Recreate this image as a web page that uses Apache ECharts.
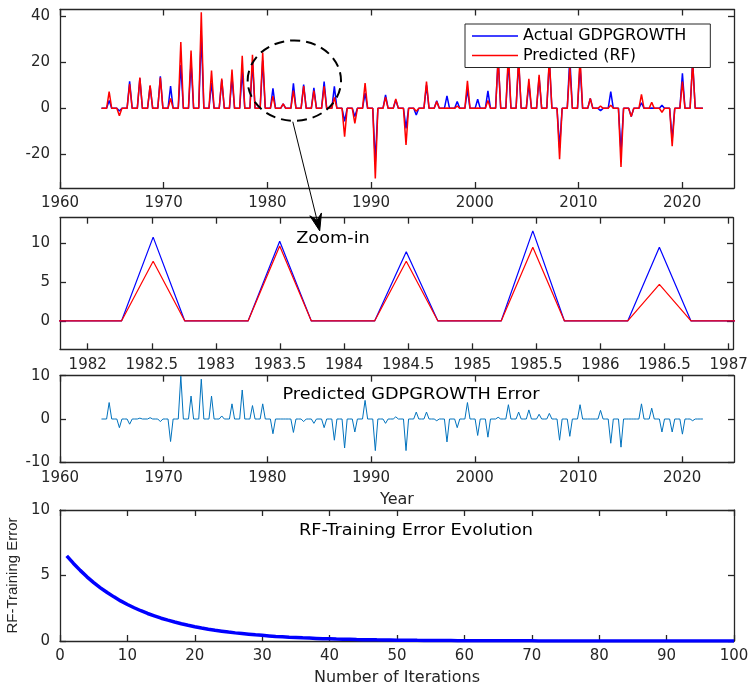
<!DOCTYPE html>
<html>
<head>
<meta charset="utf-8">
<script src="https://cdn.jsdelivr.net/npm/echarts@6/dist/echarts.min.js"></script>
<style>
html,body{margin:0;padding:0;background:#fff;}
#chart{width:750px;height:685px;}
</style>
</head>
<body>
<div id="chart"></div>
<script>
// ---- time sampling of the GDP series (quarter-like grid, one value per year) ----
const timeStart = 1964, timeEnd = 2022, sampleCount = 236;

// Actual GDP growth (blue)
const actualGDP = [
  0,0,0,3.4,   0,0,0,-1.2,  0,0,0,11.7,  0,0,0,13.0,  0,0,0,9.6,
  0,0,0,13.9,  0,0,0,9.6,   0,0,0,18.8,  0,0,0,19.7,  0,0,0,32.0,
  0,0,0,11.1,  0,0,0,12.2,  0,0,0,13.3,  0,0,0,16.1,  0,0,0,20.1,
  0,0,0,20.7,  0,0,0,8.7,   0,0,0,1.9,   0,0,0,10.8,  0,0,0,10.26,
  0,0,0,8.9,   0,0,0,11.6,  0,0,0,9.5,   0,0,0,-5.6,  0,0,0,-3.5,
  0,0,0,6.6,   0,0,0,-23.1, 0,0,0,5.8,   0,0,0,3.6,   0,0,0,-8.7,
  0,0,0,-2.9,  0,0,0,10.0,  0,0,0,3.3,   0,0,0,5.4,   0,0,0,3.0,
  0,0,0,8.1,   0,0,0,3.9,   0,0,0,7.6,   0,0,0,21.6,  0,0,0,20.7,
  0,0,0,20.4,  0,0,0,10.7,  0,0,0,13.4,  0,0,0,20.7,  0,0,0,-17.1,
  0,0,0,22.0,  0,0,0,18.7,  0,0,0,4.3,   0,0,0,-1.0,  0,0,0,7.2,
  0,0,0,-18.9, 0,0,0,-3.6,  0,0,0,2.4,   0,0,0,0.1,   0,0,0,1.3,
  0,0,0,-13.4, 0,0,0,15.2,  0,0,0,20.4,  0,0,0,0
];

// Predicted (RF) (red)
const predictedRF = [
  0,0,0,7.2,   0,0,0,-3.2,  0,0,0,10.5,  0,0,0,13.3,  0,0,0,10.0,
  0,0,0,13.3,  0,0,0,4.3,   0,0,0,28.7,  0,0,0,25.0,  0,0,0,41.6,
  0,0,0,16.4,  0,0,0,12.9,  0,0,0,16.8,  0,0,0,22.8,  0,0,0,23.2,
  0,0,0,24.2,  0,0,0,5.3,   0,0,0,1.9,   0,0,0,7.7,   0,0,0,9.66,
  0,0,0,7.7,   0,0,0,9.5,   0,0,0,4.7,   0,0,0,-12.3, 0,0,0,-6.5,
  0,0,0,10.9,  0,0,0,-30.4, 0,0,0,4.8,   0,0,0,4.1,   0,0,0,-15.9,
  0,0,0,-1.3,  0,0,0,11.6,  0,0,0,2.9,   0,0,0,0.1,   0,0,0,1.0,
  0,0,0,11.9,  0,0,0,0.1,   0,0,0,3.4,   0,0,0,22.0,  0,0,0,24.0,
  0,0,0,22.0,  0,0,0,12.8,  0,0,0,14.5,  0,0,0,22.0,  0,0,0,-22.0,
  0,0,0,18.0,  0,0,0,22.0,  0,0,0,4.3,   0,0,0,1.0,   0,0,0,1.4,
  0,0,0,-25.4, 0,0,0,-3.6,  0,0,0,6.0,   0,0,0,2.6,   0,0,0,-1.7,
  0,0,0,-16.4, 0,0,0,11.6,  0,0,0,20.0,  0,0,0,0
];

// Predicted GDPGROWTH error
const predictionError = [
  0,0,0,3.8,   0,0,0,-2.0,  0,0,0,-1.2,  0,0,0,0.2,   0,0,0,0.3,
  0,0,0,-0.6,  0,0,0,-5.2,  0,0,0,9.9,   0,0,0,5.3,   0,0,0,9.2,
  0,0,0,5.3,   0,0,0,0.7,   0,0,0,3.5,   0,0,0,6.7,   0,0,0,3.1,
  0,0,0,3.5,   0,0,0,-3.4,  0,0,0,0,     0,0,0,-3.1,  0,0,0,-0.6,
  0,0,0,-1.0,  0,0,0,-2.0,  0,0,0,-4.9,  0,0,0,-6.7,  0,0,0,-3.0,
  0,0,0,4.3,   0,0,0,-7.3,  0,0,0,-1.0,  0,0,0,0.5,   0,0,0,-7.3,
  0,0,0,1.6,   0,0,0,1.6,   0,0,0,-0.4,  0,0,0,-5.3,  0,0,0,-2.0,
  0,0,0,3.8,   0,0,0,-3.8,  0,0,0,-4.2,  0,0,0,0.4,   0,0,0,3.3,
  0,0,0,1.6,   0,0,0,2.1,   0,0,0,1.1,   0,0,0,1.3,   0,0,0,-4.9,
  0,0,0,-4.0,  0,0,0,3.3,   0,0,0,0,     0,0,0,2.0,   0,0,0,-5.6,
  0,0,0,-6.5,  0,0,0,0,     0,0,0,3.5,   0,0,0,2.5,   0,0,0,-3.0,
  0,0,0,-3.0,  0,0,0,-3.5,  0,0,0,-0.4,  0,0,0,0
];

// RF training error per iteration (iterations 1..100)
const trainingError = [
  6.50,5.92,5.39,4.90,4.46,4.06,3.70,3.37,3.06,2.79,
  2.54,2.31,2.10,1.92,1.74,1.59,1.45,1.32,1.20,1.09,
  0.99,0.90,0.82,0.75,0.68,0.62,0.57,0.52,0.47,0.43,
  0.39,0.35,0.32,0.29,0.27,0.24,0.22,0.20,0.18,0.17,
  0.15,0.14,0.13,0.11,0.10,0.095,0.086,0.079,0.072,0.065,
  0.059,0.054,0.049,0.045,0.041,0.037,0.034,0.031,0.028,0.025,
  0.023,0.021,0.019,0.018,0.016,0.015,0.013,0.012,0.011,0.010,
  0.009,0.008,0.008,0.007,0.006,0.006,0.005,0.005,0.004,0.004,
  0.004,0.003,0.003,0.003,0.002,0.002,0.002,0.002,0.002,0.002,
  0.001,0.001,0.001,0.001,0.001,0.001,0.001,0.001,0.001,0.001
];

// tick labels
const yearTicks = [1960,1970,1980,1990,2000,2010,2020];
const zoomYearTicks = [1982,1982.5,1983,1983.5,1984,1984.5,1985,1985.5,1986,1986.5,1987];
const gdpTicks = [-20,0,20,40];
const zoomGdpTicks = [0,5,10];
const errorTicks = [-10,0,10];
const iterTicks = [0,10,20,30,40,50,60,70,80,90,100];
const trainTicks = [0,5,10];

// ---- build series data ----
const step = (timeEnd - timeStart) / (sampleCount - 1);
const timeAxis = actualGDP.map((_, i) => timeStart + i * step);
const actualPairs = timeAxis.map((t, i) => [t, actualGDP[i]]);
const predictedPairs = timeAxis.map((t, i) => [t, predictedRF[i]]);
const errorPairs = timeAxis.map((t, i) => [t, predictionError[i]]);
const trainPairs = trainingError.map((v, i) => [i + 1, v]);

const axisColor = '#262626';
const tickFont = 'DejaVu Sans';

function xAx(grid, min, max, ticks, pos, showLabel, extra) {
  return Object.assign({
    type: 'value', gridIndex: grid, min: min, max: max, position: pos,
    axisLine: { show: true, onZero: false, lineStyle: { color: axisColor, width: 1.3 } },
    axisTick: { show: true, inside: true, length: 6, customValues: ticks, lineStyle: { color: axisColor, width: 1.3 } },
    axisLabel: { show: showLabel, customValues: ticks, formatter: v => String(v), color: axisColor,
                 fontFamily: tickFont, fontSize: 15, margin: 8 },
    splitLine: { show: false }
  }, extra || {});
}
function yAx(grid, min, max, ticks, pos, showLabel, extra) {
  return Object.assign({
    type: 'value', gridIndex: grid, min: min, max: max, position: pos,
    axisLine: { show: true, onZero: false, lineStyle: { color: axisColor, width: 1.3 } },
    axisTick: { show: true, inside: true, length: 6, customValues: ticks, lineStyle: { color: axisColor, width: 1.3 } },
    axisLabel: { show: showLabel, customValues: ticks, formatter: v => String(v), color: axisColor,
                 fontFamily: tickFont, fontSize: 15, margin: 10 },
    splitLine: { show: false }
  }, extra || {});
}

const gdpRange = [-34.5, 42.8];
const zoomTimeRange = [1981.784, 1987.034];
const zoomGdpRange = [-3.65, 13.3];

const option = {
  animation: false,
  backgroundColor: '#fff',
  grid: [
    { left: 60, top: 9.5, width: 674, height: 178.5, containLabel: false, outerBoundsMode: 'none' },
    { left: 60, top: 217.7, width: 673, height: 131.6, containLabel: false, outerBoundsMode: 'none' },
    { left: 60, top: 375.7, width: 674, height: 86.6, containLabel: false, outerBoundsMode: 'none' },
    { left: 60, top: 510, width: 674, height: 131, containLabel: false, outerBoundsMode: 'none' }
  ],
  xAxis: [
    xAx(0, 1960, 2025, yearTicks, 'bottom', true),
    xAx(0, 1960, 2025, yearTicks, 'top', false),
    xAx(1, zoomTimeRange[0], zoomTimeRange[1], zoomYearTicks, 'bottom', true),
    xAx(1, zoomTimeRange[0], zoomTimeRange[1], zoomYearTicks, 'top', false),
    xAx(2, 1960, 2025, yearTicks, 'bottom', true, {
      name: 'Year', nameLocation: 'middle', nameGap: 30,
      nameTextStyle: { fontFamily: tickFont, fontSize: 16, color: axisColor } }),
    xAx(2, 1960, 2025, yearTicks, 'top', false),
    xAx(3, 0, 100, iterTicks, 'bottom', true, {
      name: 'Number of Iterations', nameLocation: 'middle', nameGap: 29,
      nameTextStyle: { fontFamily: tickFont, fontSize: 16, color: axisColor } }),
    xAx(3, 0, 100, iterTicks, 'top', false)
  ],
  yAxis: [
    yAx(0, gdpRange[0], gdpRange[1], gdpTicks, 'left', true),
    yAx(0, gdpRange[0], gdpRange[1], gdpTicks, 'right', false),
    yAx(1, zoomGdpRange[0], zoomGdpRange[1], zoomGdpTicks, 'left', true),
    yAx(1, zoomGdpRange[0], zoomGdpRange[1], zoomGdpTicks, 'right', false),
    yAx(2, -10, 10, errorTicks, 'left', true),
    yAx(2, -10, 10, errorTicks, 'right', false),
    yAx(3, 0, 10, trainTicks, 'left', true, {
      name: 'RF-Training Error', nameLocation: 'middle', nameGap: 39, nameRotate: 90,
      nameTextStyle: { fontFamily: 'Liberation Sans', fontSize: 15, color: axisColor } }),
    yAx(3, 0, 10, trainTicks, 'right', false)
  ],
  legend: {
    data: [{ name: 'Actual GDPGROWTH', icon: 'rect' }, { name: 'Predicted (RF)', icon: 'rect' }],
    orient: 'vertical', left: 465, top: 24,
    itemWidth: 46, itemHeight: 1.4, itemGap: 3.5,
    padding: [4, 24, 4, 7],
    backgroundColor: '#fff', borderColor: '#262626', borderWidth: 1,
    textStyle: { fontFamily: tickFont, fontSize: 16, lineHeight: 16, color: '#000' },
    selectedMode: false, z: 10
  },
  series: [
    { name: 'Actual GDPGROWTH', type: 'line', xAxisIndex: 0, yAxisIndex: 0, data: actualPairs,
      symbol: 'none', showSymbol: false, color: '#0000ff', lineStyle: { color: '#0000ff', width: 1.5 } },
    { name: 'Predicted (RF)', type: 'line', xAxisIndex: 0, yAxisIndex: 0, data: predictedPairs,
      symbol: 'none', showSymbol: false, color: '#ff0000', lineStyle: { color: '#ff0000', width: 1.5 } },
    { name: 'Actual (zoom)', type: 'line', xAxisIndex: 2, yAxisIndex: 2, data: actualPairs,
      symbol: 'none', showSymbol: false, clip: true, lineStyle: { color: '#0000ff', width: 1.2 } },
    { name: 'Predicted (zoom)', type: 'line', xAxisIndex: 2, yAxisIndex: 2, data: predictedPairs,
      symbol: 'none', showSymbol: false, clip: true, lineStyle: { color: '#ff0000', width: 1.2 } },
    { name: 'Error', type: 'line', xAxisIndex: 4, yAxisIndex: 4, data: errorPairs,
      symbol: 'none', showSymbol: false, lineStyle: { color: '#0072BD', width: 1 } },
    { name: 'Training error', type: 'line', xAxisIndex: 6, yAxisIndex: 6, data: trainPairs,
      symbol: 'none', showSymbol: false, lineStyle: { color: '#0000ff', width: 3.5 } }
  ]
};

const chart = echarts.init(document.getElementById('chart'), null, { renderer: 'canvas' });
chart.setOption(option);

// ---- annotations placed in data coordinates ----
const g1 = { xAxisIndex: 0, yAxisIndex: 0 };
const g2 = { xAxisIndex: 2, yAxisIndex: 2 };
const ellTL = chart.convertToPixel(g1, [1978.1, 29.4]);
const ellBR = chart.convertToPixel(g1, [1987.1, -5.4]);
const arrowStart = chart.convertToPixel(g1, [1982.45, -5.8]);
const arrowTip = chart.convertToPixel(g2, [1983.81, 11.6]);
const dx = arrowTip[0] - arrowStart[0], dy = arrowTip[1] - arrowStart[1];
const len = Math.sqrt(dx * dx + dy * dy);
const ux = dx / len, uy = dy / len, nx = -uy, ny = ux;
const headL = 17, headW = 6;
const base = [arrowTip[0] - ux * headL, arrowTip[1] - uy * headL];
const notch = [arrowTip[0] - ux * headL * 0.65, arrowTip[1] - uy * headL * 0.65];

chart.setOption({
  graphic: [
    { type: 'ellipse', z: 20,
      shape: { cx: (ellTL[0] + ellBR[0]) / 2, cy: (ellTL[1] + ellBR[1]) / 2,
               rx: Math.abs(ellBR[0] - ellTL[0]) / 2, ry: Math.abs(ellBR[1] - ellTL[1]) / 2 },
      style: { fill: 'none', stroke: '#000', lineWidth: 2, lineDash: [10, 6] } },
    { type: 'line', z: 20,
      shape: { x1: arrowStart[0], y1: arrowStart[1], x2: notch[0], y2: notch[1] },
      style: { stroke: '#000', lineWidth: 1 } },
    { type: 'polygon', z: 20,
      shape: { points: [arrowTip, [base[0] + nx * headW, base[1] + ny * headW], notch,
                        [base[0] - nx * headW, base[1] - ny * headW]] },
      style: { fill: '#000', stroke: '#000', lineWidth: 1 } },
    { type: 'text', z: 20, x: 333, y: 239.5, scaleX: 1.18,
      style: { text: 'Zoom-in', font: '15px "DejaVu Sans"', fill: '#000', align: 'center', verticalAlign: 'middle' } },
    { type: 'text', z: 20, x: 411, y: 395, scaleX: 1.18,
      style: { text: 'Predicted GDPGROWTH Error', font: '15px "DejaVu Sans"', fill: '#000', align: 'center', verticalAlign: 'middle' } },
    { type: 'text', z: 20, x: 416, y: 531.5, scaleX: 1.18,
      style: { text: 'RF-Training Error Evolution', font: '15px "DejaVu Sans"', fill: '#000', align: 'center', verticalAlign: 'middle' } }
  ]
});
</script>
</body>
</html>
